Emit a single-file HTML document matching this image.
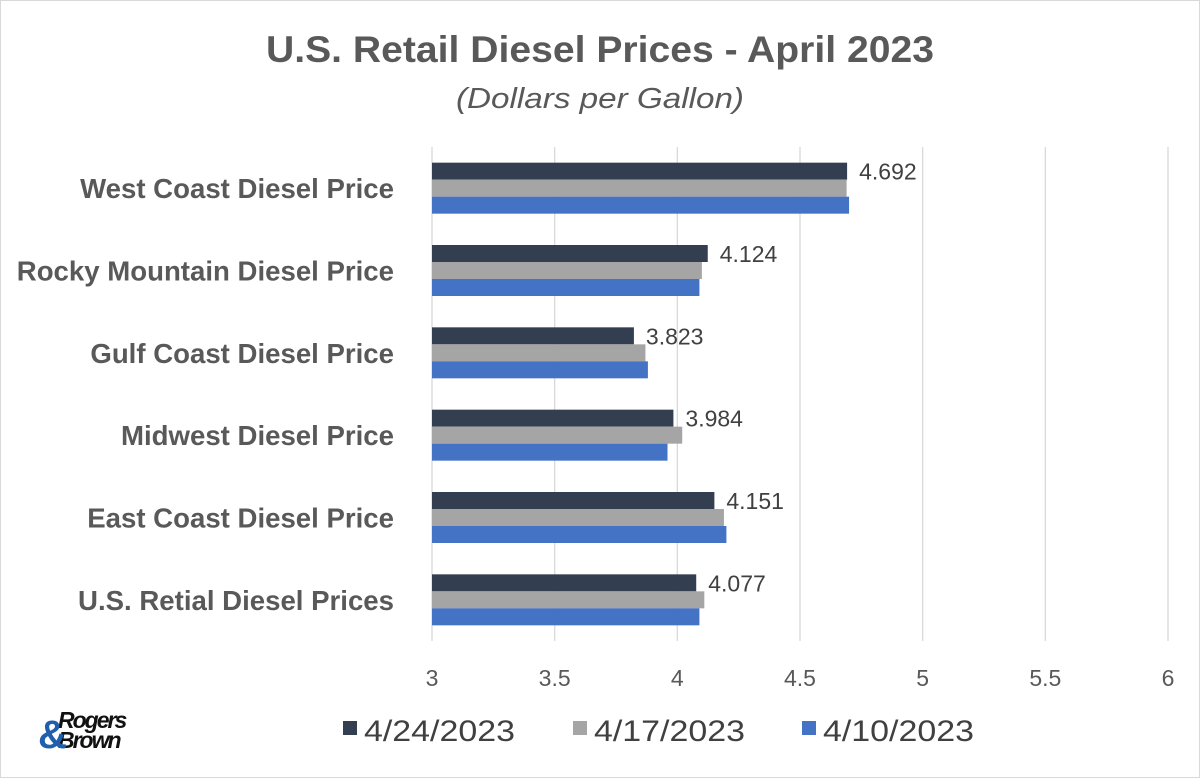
<!DOCTYPE html>
<html><head><meta charset="utf-8"><style>
body{margin:0;background:#fff;}
svg text{font-family:"Liberation Sans",sans-serif;}
</style></head><body>
<svg id="chart" width="1200" height="778" viewBox="0 0 1200 778">
<rect x="0.5" y="0.5" width="1199" height="777" fill="#fff" stroke="#d9d9d9"/>
<text x="600" y="62" text-anchor="middle" font-size="37" font-weight="bold" fill="#595959" textLength="668" lengthAdjust="spacingAndGlyphs">U.S. Retail Diesel Prices - April 2023</text>
<text x="600" y="108" text-anchor="middle" font-size="29" font-style="italic" fill="#595959" textLength="288" lengthAdjust="spacingAndGlyphs">(Dollars per Gallon)</text>
<g id="grid"></g><g id="bars"></g><g id="labels"></g>
<g>
<rect x="343" y="721" width="14" height="14" fill="#333f50"/>
<text x="364" y="741" font-size="30" fill="#404040" textLength="151" lengthAdjust="spacingAndGlyphs">4/24/2023</text>
<rect x="573" y="721" width="14" height="14" fill="#a5a5a5"/>
<text x="594" y="741" font-size="30" fill="#404040" textLength="151" lengthAdjust="spacingAndGlyphs">4/17/2023</text>
<rect x="802" y="721" width="14" height="14" fill="#4472c4"/>
<text x="823" y="741" font-size="30" fill="#404040" textLength="151" lengthAdjust="spacingAndGlyphs">4/10/2023</text>
</g>
<g>
<text x="58" y="728" font-size="23" font-weight="bold" font-style="italic" fill="#111" letter-spacing="-2">Rogers</text>
<text x="58" y="748" font-size="23" font-weight="bold" font-style="italic" fill="#111" letter-spacing="-2">Brown</text>
<text x="38" y="748" font-size="40" font-weight="bold" fill="#1f5fae">&amp;</text>
</g>
</svg>
<script>
const categories=["West Coast Diesel Price","Rocky Mountain Diesel Price","Gulf Coast Diesel Price","Midwest Diesel Price","East Coast Diesel Price","U.S. Retial Diesel Prices"];
const s0424=[4.692,4.124,3.823,3.984,4.151,4.077];
const s0417=[4.69,4.10,3.87,4.02,4.19,4.11];
const s0410=[4.70,4.09,3.88,3.96,4.20,4.09];
const ticks=[3,3.5,4,4.5,5,5.5,6];
const tickLabels=["3","3.5","4","4.5","5","5.5","6"];
const NS="http://www.w3.org/2000/svg";
const plotX0=432,plotX1=1168,plotTop=147,plotBot=641;
const xs=v=>plotX0+(v-3)/(6-3)*(plotX1-plotX0);
const band=(plotBot-plotTop)/categories.length;
function mk(tag,attrs,parent){const e=document.createElementNS(NS,tag);for(const k in attrs)e.setAttribute(k,attrs[k]);parent.appendChild(e);return e;}
const grid=document.getElementById('grid'),bars=document.getElementById('bars'),labels=document.getElementById('labels');
ticks.forEach((t,i)=>{
 const l=mk('line',{x1:xs(t),x2:xs(t),y1:plotTop,y2:plotBot,stroke:'#d9d9d9','stroke-width':1.3},grid);
 
 
 const tx=mk('text',{x:xs(t),y:686,'text-anchor':'middle','font-size':23,fill:'#595959'},labels);
 tx.textContent=tickLabels[i];
 
 
});
const series=[[s0424,'#333f50','0424'],[s0417,'#a5a5a5','0417'],[s0410,'#4472c4','0410']];
const bh=17;
categories.forEach((c,i)=>{
 const cy=plotTop+band*(i+0.5);
 const t=mk('text',{x:394,y:cy+10,'text-anchor':'end','font-size':27.6,'font-weight':'bold',fill:'#595959'},labels);
 t.textContent=c;
 
 
 series.forEach((s,j)=>{
  const v=s[0][i];
  const r=mk('rect',{x:plotX0,y:cy-1.5*bh+j*bh,width:xs(v)-plotX0,height:bh,fill:s[1]},bars);
  
  
 });
 const v=s0424[i];
 const vl=mk('text',{x:xs(v)+12,y:cy-1.5*bh+bh-0,'font-size':23,fill:'#404040'},labels);
 vl.textContent=v.toFixed(3);
 
 
});
</script>
</body></html>
